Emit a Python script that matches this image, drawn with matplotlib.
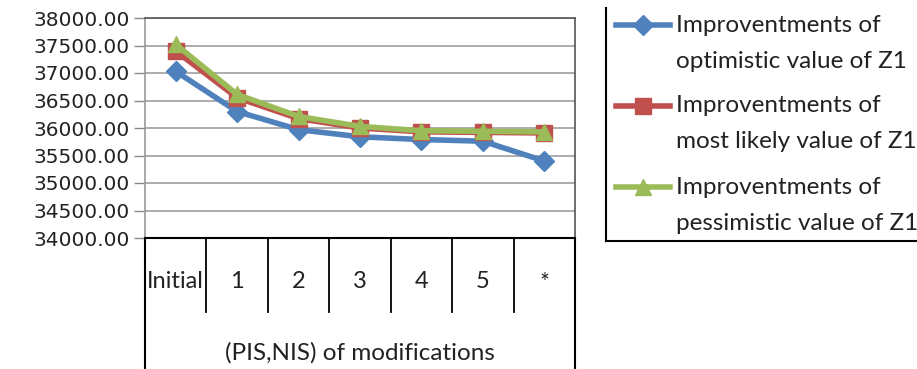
import numpy as np
import matplotlib.pyplot as plt
from matplotlib.lines import Line2D

# Z1 values for each (PIS,NIS) modification step
categories = ['Initial', '1', '2', '3', '4', '5', '*']
optimistic = [37030, 36300, 35970, 35840, 35790, 35760, 35400]
most_likely = [37400, 36550, 36170, 36000, 35930, 35920, 35910]
pessimistic = [37520, 36610, 36210, 36030, 35950, 35940, 35930]
labels = ['Improventments of\noptimistic value of Z1',
          'Improventments of\nmost likely value of Z1',
          'Improventments of\npessimistic value of Z1']
yticks = np.arange(34000, 38001, 500)

W, H = 917, 369
fig = plt.figure(figsize=(W / 100, H / 100), dpi=100)


def fx(p):
    return p / W


def fy(p):
    # pixel row from the top -> figure fraction
    return (H - p) / H


# plot area in pixels: x 145..575, y 18..238 (from top)
ax = fig.add_axes([fx(145), fy(238), 430 / W, 220 / H])

x = np.arange(len(categories))
series = [
    (optimistic, '#4F81BD', 'D', 10.5),
    (most_likely, '#C0504D', 's', 11),
    (pessimistic, '#9BBB59', '^', 12),
]
LW = 4.0
for vals, col, mk, ms in series:
    ax.plot(x, vals, color=col, lw=LW, marker=mk, ms=ms, mec=col, mfc=col,
            zorder=3)

ax.set_xlim(-0.5, len(categories) - 0.5)
ax.set_ylim(34000, 38000)
ax.set_yticks(yticks)
ax.set_yticklabels([f'{v:.2f}' for v in yticks], fontsize=14.5,
                   family='DejaVu Sans', color='#222222')
ax.yaxis.grid(True, color='#a6a6a6', lw=1.3)
ax.set_axisbelow(True)
ax.tick_params(axis='y', length=8, width=1, color='#888888', pad=3)
ax.set_xticks([])

for side in ['top', 'right']:
    ax.spines[side].set_color('#555555')
    ax.spines[side].set_linewidth(1.2)
ax.spines['left'].set_color('#999999')
ax.spines['left'].set_linewidth(1.2)
ax.spines['bottom'].set_color('black')
ax.spines['bottom'].set_linewidth(1.5)

# category table below the plot area
px = 1 / 220  # one pixel in axes y units
tr = ax.get_xaxis_transform()
for b in np.arange(0.5, len(categories) - 0.5):
    ax.plot([b, b], [0, -74 * px], color='black', lw=1.3, transform=tr,
            clip_on=False)
for b in [-0.5, len(categories) - 0.5]:
    ax.plot([b, b], [0, -140 * px], color='black', lw=1.5, transform=tr,
            clip_on=False)
for xi, c in zip(x, categories):
    ax.text(xi, -44 * px, c, transform=tr, ha='center', va='center',
            fontsize=17, family='Lato', color='#222222')
ax.text(0.5, -115 * px, '(PIS,NIS) of modifications', transform=ax.transAxes,
        ha='center', va='center', fontsize=17.5, family='Lato', color='#222222')

# legend box: only left and bottom edges fall inside the figure
fig.add_artist(Line2D([fx(606), fx(606)], [fy(8), fy(241)], color='black',
                      lw=1.5, transform=fig.transFigure))
fig.add_artist(Line2D([fx(606), 1.0], [fy(241), fy(241)], color='black',
                      lw=1.5, transform=fig.transFigure))
for i, ((vals, col, mk, ms), lab) in enumerate(zip(series, labels)):
    y0 = 25 + 81 * i
    fig.add_artist(Line2D([fx(616), fx(643), fx(670)], [fy(y0)] * 3,
                          color=col, lw=LW, marker=mk, ms=ms, mec=col,
                          mfc=col, markevery=[1], transform=fig.transFigure))
    for j, line in enumerate(lab.split('\n')):
        fig.text(fx(676), fy(y0 + 36 * j), line, ha='left', va='center',
                 fontsize=17.5, family='Lato', color='#222222')

fig.savefig('out.png', dpi=100)
